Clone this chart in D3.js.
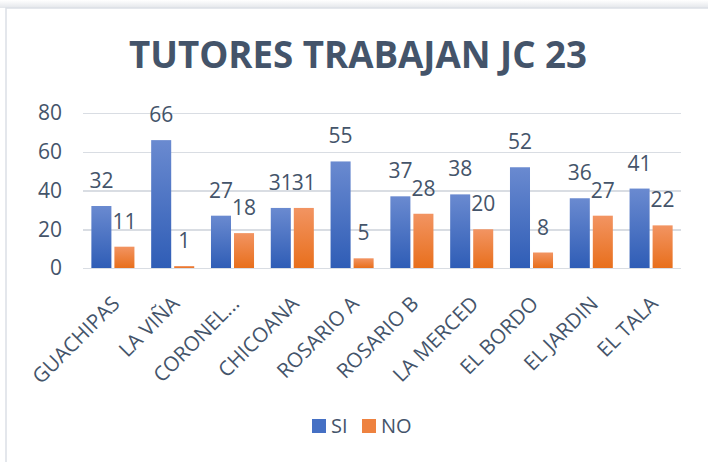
<!DOCTYPE html>
<meta charset="utf-8">
<style>
html, body {
  margin: 0;
  padding: 0;
  background-color: white;
}
svg text {
  font-family: "Open Sans", sans-serif;
  fill: #44546A;
}
.grid line {
  stroke: #D9DDE3;
  stroke-width: 1.5px;
  shape-rendering: crispEdges;
}
.grid path {
  display: none;
}
</style>
<svg width="708" height="462"></svg>
<script src="https://d3js.org/d3.v7.min.js"></script>
<script>
var categories = ["GUACHIPAS", "LA VIÑA", "CORONEL...", "CHICOANA", "ROSARIO A",
                  "ROSARIO B", "LA MERCED", "EL BORDO", "EL JARDIN", "EL TALA"];
var siValues = [32, 66, 27, 31, 55, 37, 38, 52, 36, 41];
var noValues = [11, 1, 18, 31, 5, 28, 20, 8, 27, 22];
var seriesNames = ["SI", "NO"];
var yTicks = [0, 20, 40, 60, 80];

var svg = d3.select("svg"),
    margin = {top: 113, left: 83, right: 27, bottom: 194},
    width = 708 - margin.left - margin.right,
    height = 462 - margin.top - margin.bottom;

var defs = svg.append("defs");

// shadow above the frame
var sh = defs.append("linearGradient").attr("id", "shadow")
    .attr("x1", 0).attr("y1", 0).attr("x2", 0).attr("y2", 1);
sh.append("stop").attr("offset", "0%").attr("stop-color", "#ffffff");
sh.append("stop").attr("offset", "100%").attr("stop-color", "#e3e6ea");

function grad(id, top, bottom) {
  var lg = defs.append("linearGradient").attr("id", id)
      .attr("x1", 0).attr("y1", 0).attr("x2", 0).attr("y2", 1);
  lg.append("stop").attr("offset", "0%").attr("stop-color", top);
  lg.append("stop").attr("offset", "100%").attr("stop-color", bottom);
}
grad("gSI", "#6A8AD0", "#2F5DB6");
grad("gNO", "#F29462", "#E86F1C");
var fills = {SI: "url(#gSI)", NO: "url(#gNO)"};
var legendFills = {SI: "#4570C4", NO: "#EE8240"};

svg.append("rect").attr("x", 0).attr("y", 0).attr("width", 708).attr("height", 8)
    .attr("fill", "url(#shadow)");
svg.append("rect").attr("x", 6).attr("y", 8).attr("width", 760).attr("height", 500)
    .attr("fill", "white").attr("stroke", "#DCE0E6").attr("stroke-width", 1.5);

var x0 = d3.scaleBand().domain(categories).range([0, width])
    .paddingInner(0.28).paddingOuter(0.14);
var x1 = d3.scaleBand().domain(seriesNames).range([0, x0.bandwidth()])
    .paddingInner(0.13);
var y = d3.scaleLinear().domain([0, 80]).range([height, 0]);

var g = svg.append("g")
    .attr("transform", "translate(" + margin.left + "," + margin.top + ")");

// gridlines
g.append("g")
    .attr("class", "grid")
    .call(d3.axisLeft(y).tickValues(yTicks).tickSize(-width).tickFormat(""));

// y tick labels
g.selectAll(".ylab")
    .data(yTicks)
  .enter().append("text")
    .attr("class", "ylab")
    .attr("x", -21)
    .attr("y", function(d) { return y(d); })
    .attr("dy", "0.35em")
    .attr("text-anchor", "end")
    .style("font-size", "21px")
    .text(function(d) { return d; });

var data = categories.map(function(c, i) {
  return {cat: c, values: [{key: "SI", v: siValues[i]}, {key: "NO", v: noValues[i]}]};
});

var groups = g.selectAll(".grp")
    .data(data)
  .enter().append("g")
    .attr("class", "grp")
    .attr("transform", function(d) { return "translate(" + x0(d.cat) + ",0)"; });

groups.selectAll("rect")
    .data(function(d) { return d.values; })
  .enter().append("rect")
    .attr("x", function(d) { return x1(d.key); })
    .attr("y", function(d) { return y(d.v); })
    .attr("width", x1.bandwidth())
    .attr("height", function(d) { return height - y(d.v); })
    .attr("fill", function(d) { return fills[d.key]; });

groups.selectAll(".lbl")
    .data(function(d) { return d.values; })
  .enter().append("text")
    .attr("class", "lbl")
    .attr("x", function(d) { return x1(d.key) + x1.bandwidth() / 2; })
    .attr("y", function(d) { return y(d.v) - 18; })
    .attr("text-anchor", "middle")
    .style("font-size", "21px")
    .text(function(d) { return d.v; });

// category labels
g.selectAll(".xlab")
    .data(categories)
  .enter().append("text")
    .attr("class", "xlab")
    .attr("text-anchor", "end")
    .attr("transform", function(d) {
      return "translate(" + (x0(d) + x0.bandwidth() / 2 + 8) + "," + (height + 37) + ") rotate(-45)";
    })
    .style("font-size", "20.5px")
    .text(function(d) { return d; });

// title
svg.append("text")
    .attr("x", 358)
    .attr("y", 68)
    .attr("text-anchor", "middle")
    .attr("textLength", 458)
    .attr("lengthAdjust", "spacingAndGlyphs")
    .style("font-size", "38px")
    .style("font-weight", "bold")
    .text("TUTORES TRABAJAN JC 23");

// legend
var legend = svg.append("g").attr("transform", "translate(312,419)");
var lx = {SI: 0, NO: 50};
seriesNames.forEach(function(s) {
  legend.append("rect")
      .attr("x", lx[s]).attr("y", 0)
      .attr("width", 14).attr("height", 14)
      .attr("fill", legendFills[s]);
  legend.append("text")
      .attr("x", lx[s] + 19).attr("y", 14)
      .style("font-size", "20px")
      .text(s);
});
</script>
